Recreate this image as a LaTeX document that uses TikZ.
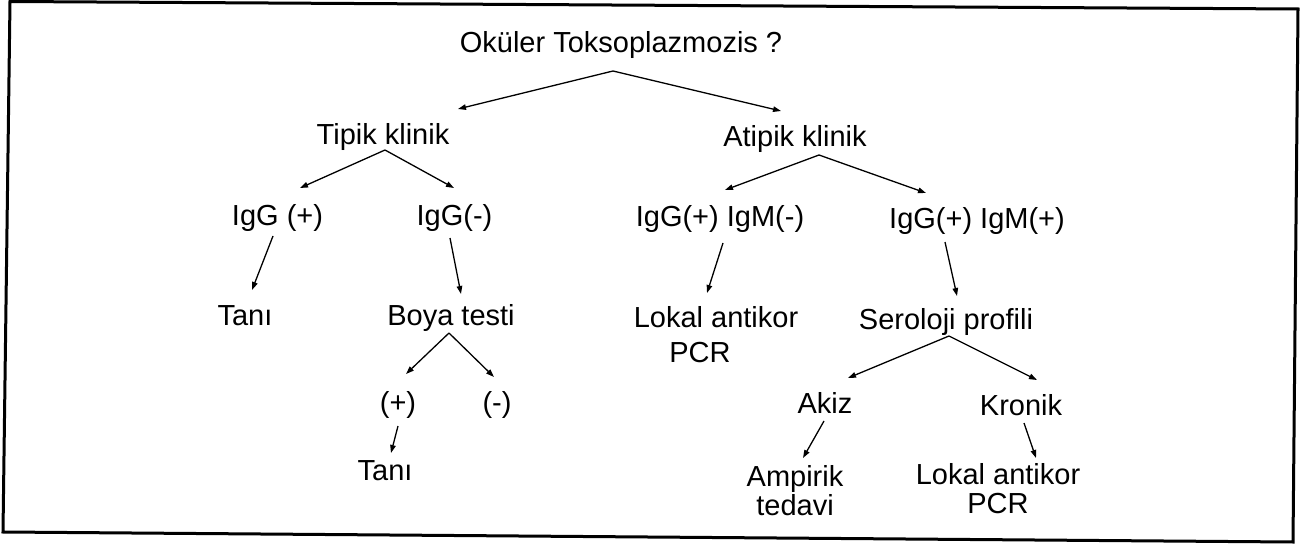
\documentclass[tikz,border=0pt]{standalone}
\usepackage{fontspec}
\setmainfont{Liberation Sans}
\usetikzlibrary{arrows.meta}
\begin{document}
\begin{tikzpicture}[x=1pt,y=-1pt,
  lbl/.style={inner sep=0pt, anchor=base, font=\fontsize{29}{29}\selectfont, align=center},
  arr/.style={line width=1.3pt, -{Triangle[length=8pt,width=5.5pt]}},
  frame/.style={line width=3pt, line join=miter}]
\useasboundingbox (0,0) rectangle (1306,545);
\draw[frame] (10,1.5) -- (1298,9) -- (1293,542) -- (3,532) -- cycle;
% nodes (multi-line nodes are anchored at the baseline of their last line)
\node[lbl] (root) at (621,53) {Oküler Toksoplazmozis ?};
\node[lbl] (tipik) at (383,145) {Tipik klinik};
\node[lbl] (atipik) at (795,147) {Atipik klinik};
\node[lbl] (igp) at (277.5,226) {IgG (+)};
\node[lbl] (igm) at (454.5,226) {IgG(-)};
\node[lbl] (gpmm) at (720,227) {IgG(+) IgM(-)};
\node[lbl] (gpmp) at (977,229) {IgG(+) IgM(+)};
\node[lbl] (tani1) at (245,325) {Tanı};
\node[lbl] (boya) at (451,325) {Boya testi};
\node[lbl] (lokal1) at (716,362) {Lokal antikor\\[6pt]PCR\hspace*{32pt}};
\node[lbl] (sero) at (946,329) {Seroloji profili};
\node[lbl] (plus) at (398,412) {(+)};
\node[lbl] (minus) at (497,412) {(-)};
\node[lbl] (tani2) at (385,480) {Tanı};
\node[lbl] (akiz) at (825,413) {Akiz};
\node[lbl] (kronik) at (1021,415) {Kronik};
\node[lbl] (ampirik) at (795,515) {Ampirik\\tedavi};
\node[lbl] (lokal2) at (998,513) {Lokal antikor\\PCR};
% arrows
\draw[arr] ([shift={(-8,18)}]root.base) -- ([shift={(75,-36)}]tipik.base);
\draw[arr] ([shift={(-8,18)}]root.base) -- ([shift={(-14,-36)}]atipik.base);
\draw[arr] ([shift={(2,5)}]tipik.base) -- ([shift={(22.5,-38)}]igp.base);
\draw[arr] ([shift={(2,5)}]tipik.base) -- ([shift={(-0.5,-38)}]igm.base);
\draw[arr] ([shift={(24,8)}]atipik.base) -- ([shift={(5,-37)}]gpmm.base);
\draw[arr] ([shift={(24,8)}]atipik.base) -- ([shift={(-51,-36)}]gpmp.base);
\draw[arr] ([shift={(-4.5,10)}]igp.base) -- ([shift={(7,-35)}]tani1.base);
\draw[arr] ([shift={(-4.5,12)}]igm.base) -- ([shift={(10,-31)}]boya.base);
\draw[arr] ([shift={(3,16)}]gpmm.base) -- ([shift={(-9,-69)}]lokal1.base);
\draw[arr] ([shift={(-32,13)}]gpmp.base) -- ([shift={(11,-33)}]sero.base);
\draw[arr] ([shift={(-2,8)}]boya.base) -- ([shift={(8,-38)}]plus.base);
\draw[arr] ([shift={(-2,8)}]boya.base) -- ([shift={(-3,-35)}]minus.base);
\draw[arr] ([shift={(3,7)}]sero.base) -- ([shift={(23,-35)}]akiz.base);
\draw[arr] ([shift={(3,7)}]sero.base) -- ([shift={(16,-35)}]kronik.base);
\draw[arr] ([shift={(0,14)}]plus.base) -- ([shift={(6,-27)}]tani2.base);
\draw[arr] ([shift={(-1,8)}]akiz.base) -- ([shift={(8,-57)}]ampirik.base);
\draw[arr] ([shift={(3,8)}]kronik.base) -- ([shift={(38,-55)}]lokal2.base);
\end{tikzpicture}
\end{document}
